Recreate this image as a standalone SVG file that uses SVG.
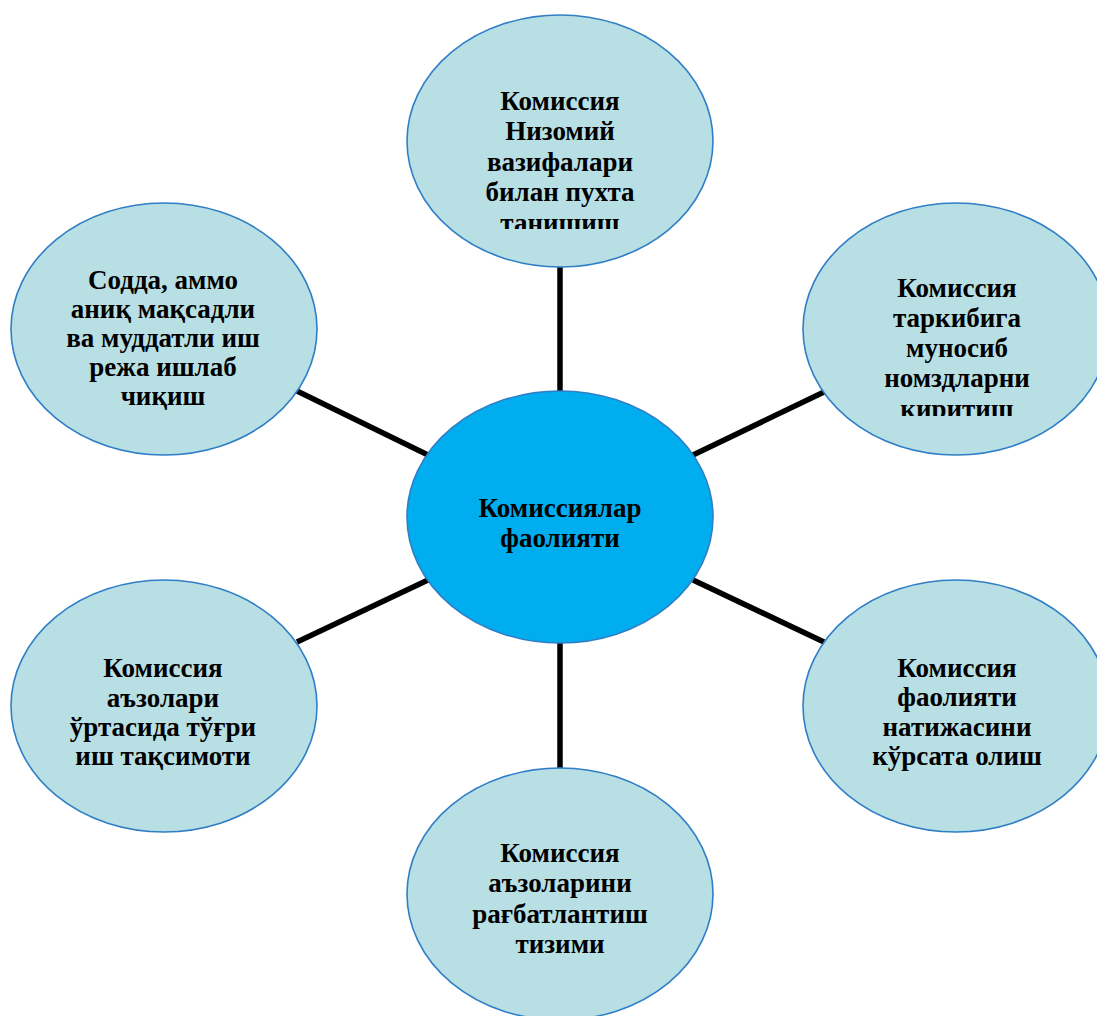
<svg xmlns="http://www.w3.org/2000/svg" width="1097" height="1016" viewBox="0 0 1097 1016">
<style>
.node{fill:#B8DFE4;stroke:#2F7EC6;stroke-width:1.6}
.hub{fill:#00AEEF;stroke:#2F7EC6;stroke-width:1.6}
.lbl{font-family:"Liberation Serif","Times New Roman",serif;font-weight:bold;font-size:27px;fill:#000;text-anchor:middle}
.conn{stroke:#000;stroke-width:5.5;fill:none}
</style>
<defs>
<clipPath id="clipTop"><rect x="400" y="0" width="320" height="229"/></clipPath>
<clipPath id="clipRT"><rect x="800" y="190" width="297" height="226"/></clipPath>
</defs>
<rect width="1097" height="1016" fill="#fff"/>
<g id="connectors">
<line class="conn" x1="560" y1="266" x2="560" y2="393"/>
<line class="conn" x1="560" y1="642" x2="560" y2="769"/>
<line class="conn" x1="297" y1="391" x2="428" y2="455"/>
<line class="conn" x1="693" y1="455" x2="824" y2="392"/>
<line class="conn" x1="297" y1="642" x2="428" y2="580"/>
<line class="conn" x1="693" y1="580" x2="824" y2="642"/>
</g>
<g id="hub">
<ellipse class="hub" cx="560" cy="517" rx="153" ry="126"/>
<text class="lbl"><tspan x="560" y="517">Комиссиялар</tspan><tspan x="560" y="547">фаолияти</tspan></text>
</g>
<g id="node-top">
<ellipse class="node" cx="560" cy="141" rx="153" ry="126"/>
<text class="lbl" clip-path="url(#clipTop)"><tspan x="560" y="110">Комиссия</tspan><tspan x="560" y="140">Низомий</tspan><tspan x="560" y="171">вазифалари</tspan><tspan x="560" y="201">билан пухта</tspan><tspan x="560" y="232">танишиш</tspan></text>
</g>
<g id="node-right-top">
<ellipse class="node" cx="956" cy="329" rx="153" ry="126"/>
<text class="lbl" clip-path="url(#clipRT)"><tspan x="957" y="297">Комиссия</tspan><tspan x="957" y="327">таркибига</tspan><tspan x="957" y="357">муносиб</tspan><tspan x="957" y="387">номздларни</tspan><tspan x="957" y="418">киритиш</tspan></text>
</g>
<g id="node-left-top">
<ellipse class="node" cx="164" cy="329" rx="153" ry="126"/>
<text class="lbl"><tspan x="163" y="289">Содда, аммо</tspan><tspan x="163" y="318">аниқ мақсадли</tspan><tspan x="163" y="347">ва муддатли иш</tspan><tspan x="163" y="376">режа ишлаб</tspan><tspan x="163" y="405">чиқиш</tspan></text>
</g>
<g id="node-left-bottom">
<ellipse class="node" cx="164" cy="706" rx="153" ry="126"/>
<text class="lbl"><tspan x="163" y="677">Комиссия</tspan><tspan x="163" y="707">аъзолари</tspan><tspan x="163" y="736">ўртасида тўғри</tspan><tspan x="163" y="765">иш тақсимоти</tspan></text>
</g>
<g id="node-right-bottom">
<ellipse class="node" cx="956" cy="706" rx="153" ry="126"/>
<text class="lbl"><tspan x="957" y="677">Комиссия</tspan><tspan x="957" y="706">фаолияти</tspan><tspan x="957" y="736">натижасини</tspan><tspan x="957" y="765">кўрсата олиш</tspan></text>
</g>
<g id="node-bottom">
<ellipse class="node" cx="560" cy="894" rx="153" ry="126"/>
<text class="lbl"><tspan x="560" y="862">Комиссия</tspan><tspan x="560" y="892">аъзоларини</tspan><tspan x="560" y="923">рағбатлантиш</tspan><tspan x="560" y="953">тизими</tspan></text>
</g>
</svg>
